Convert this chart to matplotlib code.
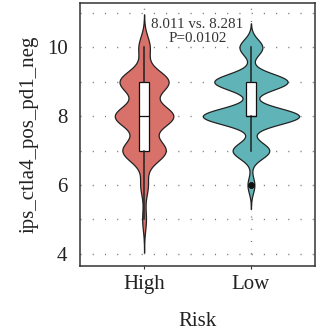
import numpy as np
import matplotlib
matplotlib.use("Agg")
import matplotlib.pyplot as plt

# score counts per risk group
groups = ["High", "Low"]
high_scores = [5, 6, 7, 8, 9, 10]
high_counts = [2, 4, 23, 31, 26, 6]
low_scores = [6, 7, 8, 9, 10]
low_counts = [3, 16, 42, 32, 10]
bandwidths = [0.32, 0.233]
colors = ["#D7716A", "#60B4B7"]
annot = "8.011 vs. 8.281\nP=0.0102"

plt.rcParams["font.family"] = ["Liberation Serif", "DejaVu Serif"]

fig = plt.figure(figsize=(3.16, 3.32), dpi=100)
ax = fig.add_axes([0.253, 0.199, 0.744, 0.793])

data = [np.repeat(high_scores, high_counts), np.repeat(low_scores, low_counts)]

# gaussian kde, not trimmed (extends 3 bandwidths past the data)
dens = []
for vals, bw in zip(data, bandwidths):
    y = np.linspace(vals.min() - 3 * bw, vals.max() + 3 * bw, 512)
    d = np.exp(-0.5 * ((y[:, None] - vals[None, :]) / bw) ** 2).sum(axis=1)
    d = d / (len(vals) * bw * np.sqrt(2 * np.pi))
    dens.append((y, d))
dmax = max(d.max() for _, d in dens)

for i, (y, d) in enumerate(dens):
    pos = i + 1
    w = d / dmax * 0.45
    ax.fill_betweenx(y, pos - w, pos + w, facecolor=colors[i],
                     edgecolor="#222222", linewidth=0.9, zorder=2)

ax.boxplot(data, positions=[1, 2], widths=0.1, patch_artist=True,
           boxprops=dict(facecolor="white", edgecolor="#111111", linewidth=0.9),
           medianprops=dict(color="#111111", linewidth=0.9),
           whiskerprops=dict(color="#222222", linewidth=1.1),
           capprops=dict(linewidth=0),
           flierprops=dict(marker="o", markerfacecolor="#111111",
                           markeredgecolor="#111111", markersize=3.5),
           zorder=3)

ax.text(1.5, 10.84, annot, ha="center", va="top", fontsize=10.8,
        color="#333333", linespacing=1.1, zorder=4)

ax.set_xlim(0.4, 2.6)
ax.set_ylim(3.65, 11.3)
ax.set_xticks([1, 2])
ax.set_xticklabels(groups)
ax.set_yticks([4, 6, 8, 10])
ax.set_yticks([5, 7, 9, 11], minor=True)
ax.tick_params(axis="y", which="both", length=0, pad=9, labelsize=15, labelcolor="#222222")
ax.tick_params(axis="x", length=2.5, width=0.8, color="#333333", pad=4,
               labelsize=15, labelcolor="#222222")

ax.grid(True, which="both", color="#777777", linewidth=1,
        linestyle=(0, (0.8, 8)), zorder=0)
ax.set_axisbelow(True)
for s in ax.spines.values():
    s.set_color("#333333")
    s.set_linewidth(1.1)

ax.set_xlabel("Risk", fontsize=15, color="#222222", labelpad=13)
ax.set_ylabel("ips_ctla4_pos_pd1_neg", fontsize=15, color="#222222", labelpad=6)

fig.savefig("out.png", dpi=100, facecolor="white")
